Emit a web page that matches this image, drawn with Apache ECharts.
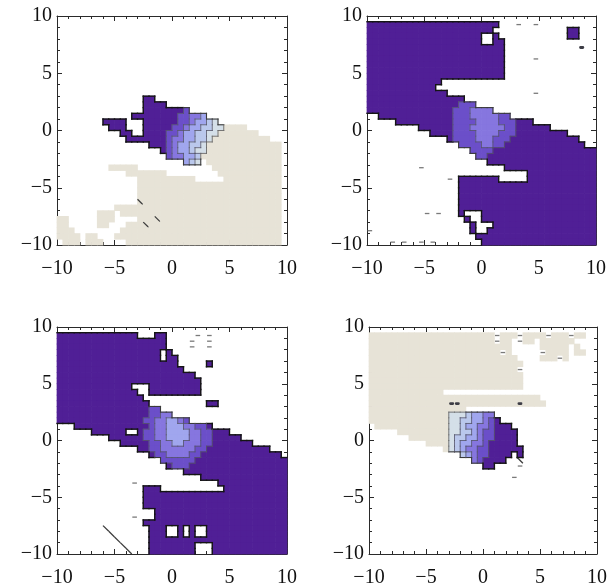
<!DOCTYPE html>
<html>
<head>
<meta charset="utf-8">
<script src="https://cdn.jsdelivr.net/npm/echarts@6/dist/echarts.min.js"></script>
<style>
  html, body { margin: 0; background: #fff; }
  #main { width: 613px; height: 588px; }
</style>
</head>
<body>
<div id="main"></div>
<script>
// Each panel is a 40x40 grid of 0.5-unit cells over [-10,10]^2, row 0 at y=10.
// Rows are run-length coded: "15. 2P" = 15 white cells then 2 deep purple cells.
// Codes: . white, B beige, P deep purple, a..e lighter contour levels,
//        g/G dash, k/K stroke, o/O dark spot (lower case on white, upper case on beige)
var axisMin = -10, axisMax = 10, cellStep = 0.5, gridCells = 40;

var topLeftRows = [
  '', '', '', '', '', '', '', '', '', '', '', '', '', '',
  '15. 2P',
  '15. 4P',
  '15. 7P 1a',
  '13. 8P 2a 2b 1c',
  '8. 4P 3. 6P 2a 1b 2c 1d 1e',
  '9. 3P 3. 5P 2a 1b 2c 2d 2e 4B',
  '11. 2P 2. 4P 2a 1b 2c 2d 2e 7B',
  '12. 7P 1a 2b 2c 2d 1e 10B',
  '16. 3P 1a 1b 2c 2d 1e 13B',
  '18. 1P 1a 1b 2c 1d 2e 13B',
  '19. 1a 2b 2c 1d 14B',
  '22. 1c 1d 1e 1. 13B',
  '9. 5B 13. 12B',
  '12. 7B 9. 11B',
  '14. 10B 5. 10B',
  '14. 25B',
  '14. 25B',
  '14. 25B',
  '14. 1K 24B',
  '10. 29B',
  '7. 3B 1. 28B',
  '2B 5. 3B 4. 3B 1K 21B',
  '2B 5. 2B 3. 3B 1K 23B',
  '3B 8. 28B',
  '4B 1. 2B 3. 29B',
  '1. 3B 1. 3B 4. 27B'
];

var topRightRows = [
  '',
  '23P 3. 1g 2. 1g',
  '22P 13. 2P',
  '20P 2. 1P 12. 2P',
  '20P 2. 2P',
  '24P 13. 1o',
  '24P',
  '24P 5. 1g',
  '24P',
  '24P',
  '24P',
  '13P',
  '12P',
  '14P 15. 1g',
  '17P',
  '16P 3a',
  '15P 3a 4b',
  '2. 13P 3a 5b 2a',
  '5. 10P 4a 4b 3a 3P',
  '9. 6P 3a 6b 2a 6P',
  '11. 4P 4a 4b 3a 9P',
  '14. 1P 4a 3b 3a 12P',
  '16. 4a 2b 2a 14P',
  '18. 4a 18P',
  '19. 2a 19P',
  '21. 19P',
  '9. 1g 14. 16P',
  '28. 12P',
  '14. 1g 1. 7P 5. 12P',
  '16. 24P',
  '16. 24P',
  '16. 24P',
  '16. 24P',
  '16. 24P',
  '10. 1g 1. 1g 3. 1P 3. 20P',
  '17. 1P 2. 20P',
  '18. 1P 3. 18P',
  '1g 17. 1P 2. 19P',
  '19. 21P',
  '4. 1g 1. 1g 2. 1g 1. 1g 8. 20P'
];

var bottomLeftRows = [
  '',
  '14P 3. 2P 5. 1g 1. 1g',
  '19P 4. 1g 2. 1g',
  '19P 4. 1g 2. 1g',
  '18P 1. 1P',
  '18P 1. 2P',
  '21P 5. 1P',
  '22P',
  '24P',
  '25P',
  '13P 3. 9P',
  '14P 2. 9P',
  '15P',
  '16P 10. 2P',
  '16P 2a',
  '16P 2a 2b',
  '15P 2a 2b 2c 1b 1a',
  '3. 13P 1a 2b 3c 2b 2a 1P',
  '6. 6P 2. 1P 2a 2b 4c 2b 2a 3P',
  '9. 6P 2a 2b 4c 2b 2a 5P',
  '11. 5P 2a 2b 2c 3b 2a 7P',
  '14. 2P 2a 6b 2a 11P',
  '16. 1P 2a 4b 2a 14P',
  '18. 6a 16P',
  '19. 1P 3a 17P',
  '22. 18P',
  '25. 15P',
  '13. 1g 14. 12P',
  '15. 3P 11. 11P',
  '15. 25P',
  '15. 25P',
  '15. 25P',
  '17. 23P',
  '13. 1g 3. 23P',
  '15. 25P',
  '8. 1k 7. 3P 2. 1P 1. 1P 2. 14P',
  '9. 1k 6. 3P 2. 1P 1. 1P 2. 14P',
  '10. 1k 5. 24P',
  '11. 1k 4. 8P 3. 13P',
  '12. 1k 3. 8P 3. 13P'
];

var bottomRightRows = [
  '',
  '22B 1g 3B 1g 4B 1g 3B 1g 2B',
  '22B 1g 2B 1. 1g 2B 1. 6B',
  '25B 5. 5B 1. 1B',
  '23B 1g 1B 5. 1g 4B 1. 2B',
  '26B 4. 3B 1g 1B',
  '27B',
  '26B 1g',
  '27B',
  '27B',
  '27B',
  '13B',
  '30B',
  '14B 2O 10B 1O 4B',
  '17B',
  '14B 3e 1d 2c 2b',
  '14B 2e 2d 2c 1b 1a 1P',
  '1. 13B 2e 1d 2c 2b 1a 3P',
  '5. 9B 2e 2d 1c 1b 2a 4P',
  '7. 7B 1e 2d 2c 1b 2a 4P',
  '10. 4B 1e 1d 2c 2b 1a 5P',
  '13. 1B 1e 1d 1c 2b 2a 6P',
  '16. 1d 1c 1b 2a 4P 1. 1P',
  '18. 1b 1a 4P 2. 1k',
  '20. 2P 4. 1g',
  '',
  '25. 1g',
  '', '', '', '', '', '', '', '', '', '', '', '', ''
];

var panelRows = [topLeftRows, topRightRows, bottomLeftRows, bottomRightRows];

var panelBoxes = [
  { left: 57, top: 16, width: 230, height: 229 },
  { left: 367, top: 16, width: 229, height: 229 },
  { left: 57, top: 327, width: 230, height: 227 },
  { left: 369, top: 327, width: 228, height: 227 }
];

var fillColor = {
  B: '#e7e3d7',
  P: '#501f96',
  a: '#6b4fc9',
  b: '#8676df',
  c: '#a0a6ee',
  d: '#bac8ec',
  e: '#d4dfe8'
};
var levels = 'Pabcde';

function decodeRows(rows) {
  var out = [];
  for (var r = 0; r < gridCells; r++) {
    var line = '';
    (rows[r] || '').split(' ').forEach(function (tok) {
      if (!tok) return;
      var ch = tok.slice(-1), n = parseInt(tok.slice(0, -1), 10) || 1;
      for (var i = 0; i < n; i++) line += ch;
    });
    while (line.length < gridCells) line += '.';
    out.push(line.slice(0, gridCells));
  }
  return out;
}

function cellBox(api, cell) {
  var x0 = axisMin + cell.c * cellStep, y0 = axisMax - cell.r * cellStep;
  var p = api.coord([x0, y0]), q = api.coord([x0 + cellStep, y0 - cellStep]);
  return { x: p[0], y: p[1], w: q[0] - p[0], h: q[1] - p[1] };
}

function edgeStyle(a, b) {
  var la = levels.indexOf(a), lb = levels.indexOf(b);
  if (la < 0 || a === b) return null;
  if (lb >= 0) return la < lb ? { stroke: '#55556a', lineWidth: 0.8, lineCap: 'square' } : null;
  if (b === 'B' || b === 'G' || b === 'K' || b === 'O') return { stroke: '#6a6a6a', lineWidth: 0.9, lineCap: 'square' };
  return a === 'P' ? { stroke: '#151515', lineWidth: 1.4, lineCap: 'square' }
                   : { stroke: '#3a3a3a', lineWidth: 1.1, lineCap: 'square' };
}

function renderFill(cells) {
  return function (params, api) {
    var cell = cells[params.dataIndex], bx = cellBox(api, cell), ch = cell.ch, kids = [];
    var base = fillColor[ch] || (/[GKO]/.test(ch) ? fillColor.B : null);
    if (base) {
      kids.push({ type: 'rect', shape: { x: bx.x - 0.35, y: bx.y - 0.35, width: bx.w + 0.7, height: bx.h + 0.7 }, style: { fill: base } });
    }
    var m = ch.toLowerCase();
    if (m === 'g') {
      kids.push({ type: 'line', shape: { x1: bx.x + bx.w * 0.1, y1: bx.y + bx.h * 0.5, x2: bx.x + bx.w * 0.9, y2: bx.y + bx.h * 0.5 }, style: { stroke: '#7a7a7a', lineWidth: 1.3 } });
    } else if (m === 'k') {
      kids.push({ type: 'line', shape: { x1: bx.x, y1: bx.y, x2: bx.x + bx.w, y2: bx.y + bx.h }, style: { stroke: '#3c3c3c', lineWidth: 1.3 } });
    } else if (m === 'o') {
      kids.push({ type: 'rect', shape: { x: bx.x + bx.w * 0.05, y: bx.y + bx.h * 0.25, width: bx.w * 0.9, height: bx.h * 0.5, r: bx.h * 0.25 }, style: { fill: '#3d3d45' } });
    }
    return { type: 'group', children: kids };
  };
}

function renderEdges(cells, grid) {
  return function (params, api) {
    var cell = cells[params.dataIndex], bx = cellBox(api, cell), kids = [];
    [[-1, 0], [1, 0], [0, -1], [0, 1]].forEach(function (s) {
      var rr = cell.r + s[0], cc = cell.c + s[1];
      if (rr < 0 || rr >= gridCells || cc < 0 || cc >= gridCells) return;
      var st = edgeStyle(cell.ch, grid[rr][cc]);
      if (!st) return;
      var shape;
      if (s[0] === -1) shape = { x1: bx.x, y1: bx.y, x2: bx.x + bx.w, y2: bx.y };
      else if (s[0] === 1) shape = { x1: bx.x, y1: bx.y + bx.h, x2: bx.x + bx.w, y2: bx.y + bx.h };
      else if (s[1] === -1) shape = { x1: bx.x, y1: bx.y, x2: bx.x, y2: bx.y + bx.h };
      else shape = { x1: bx.x + bx.w, y1: bx.y, x2: bx.x + bx.w, y2: bx.y + bx.h };
      kids.push({ type: 'line', shape: shape, style: st });
    });
    return { type: 'group', children: kids };
  };
}

function tickLabel(v) {
  return v < 0 ? '\u2212' + Math.abs(v) : String(v);
}

var frameLine = { show: true, onZero: false, lineStyle: { color: '#2a2a2a', width: 1 } };
var tickStyle = { show: true, inside: true, length: 5, lineStyle: { color: '#2a2a2a', width: 1 } };
var minorStyle = { show: true, splitNumber: 5, length: 3, lineStyle: { color: '#2a2a2a', width: 1 } };
var labelFont = { fontFamily: 'Liberation Serif', fontSize: 20, color: '#111' };

var option = { animation: false, grid: [], xAxis: [], yAxis: [], series: [] };

panelRows.forEach(function (rows, i) {
  var grid = decodeRows(rows);
  var cells = [], fillData = [], edgeCells = [], edgeData = [];
  for (var r = 0; r < gridCells; r++) {
    for (var c = 0; c < gridCells; c++) {
      var ch = grid[r][c];
      if (ch === '.') continue;
      var cell = { r: r, c: c, ch: ch };
      var center = [axisMin + (c + 0.5) * cellStep, axisMax - (r + 0.5) * cellStep];
      cells.push(cell);
      fillData.push(center);
      if (levels.indexOf(ch) >= 0) {
        edgeCells.push(cell);
        edgeData.push(center);
      }
    }
  }

  var box = panelBoxes[i];
  option.grid.push({ left: box.left, top: box.top, width: box.width, height: box.height, show: false });

  var base = { gridIndex: i, type: 'value', min: axisMin, max: axisMax, interval: 5,
               axisLine: frameLine, axisTick: tickStyle, minorTick: minorStyle, splitLine: { show: false } };
  option.xAxis.push(Object.assign({}, base, { position: 'bottom',
    axisLabel: Object.assign({ margin: 14, showMinLabel: true, showMaxLabel: true, formatter: tickLabel }, labelFont) }));
  option.xAxis.push(Object.assign({}, base, { position: 'top', axisLabel: { show: false } }));
  option.yAxis.push(Object.assign({}, base, { position: 'left',
    axisLabel: Object.assign({ margin: 5, showMinLabel: true, showMaxLabel: true, formatter: tickLabel }, labelFont) }));
  option.yAxis.push(Object.assign({}, base, { position: 'right', axisLabel: { show: false } }));

  option.series.push({
    type: 'custom', xAxisIndex: 2 * i, yAxisIndex: 2 * i, silent: true, z: 2,
    data: fillData, renderItem: renderFill(cells)
  });
  option.series.push({
    type: 'custom', xAxisIndex: 2 * i, yAxisIndex: 2 * i, silent: true, z: 3,
    data: edgeData, renderItem: renderEdges(edgeCells, grid)
  });
});

var chart = echarts.init(document.getElementById('main'), null, { renderer: 'canvas' });
chart.setOption(option);
</script>
</body>
</html>
